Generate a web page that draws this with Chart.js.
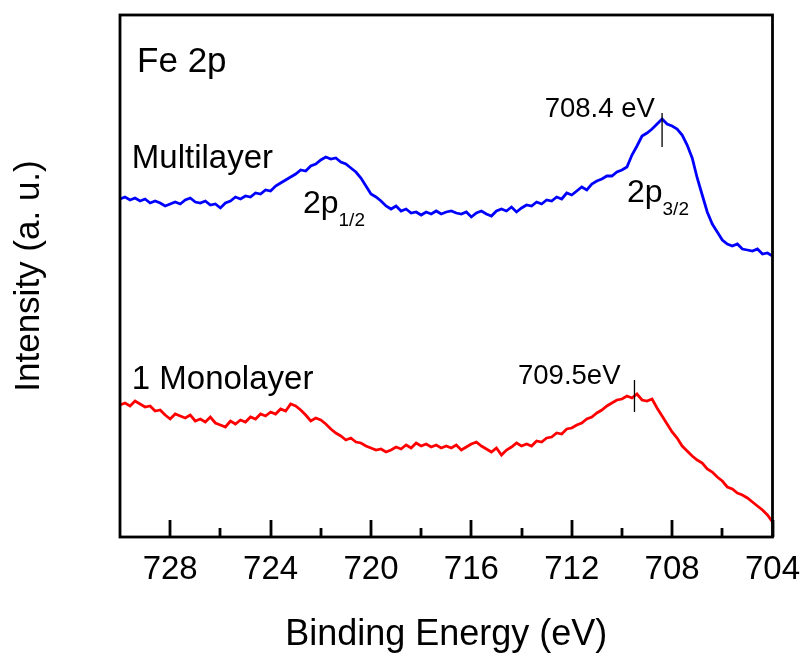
<!DOCTYPE html>
<html>
<head>
<meta charset="utf-8">
<script src="https://cdn.jsdelivr.net/npm/chart.js@4.4.1/dist/chart.umd.min.js"></script>
<style>
  html, body { margin: 0; padding: 0; background: #ffffff; }
  #wrap { width: 803px; height: 654px; }
</style>
</head>
<body>
<div id="wrap"><canvas id="c" width="803" height="654"></canvas></div>
<script>
// Binding energy grid (eV), 730 -> 704 in 0.2 eV steps
const energies = [];
for (let i = 0; i <= 130; i++) energies.push(+(730 - i * 0.2).toFixed(1));

// Intensity (a. u.), same order as energies
const multilayer = [
  338,340,337,339,336,338,334,336,334,331,
  333,335,333,337,339,335,334,336,332,333,
  329,334,336,340,338,341,340,344,343,347,
  346,351,354,357,360,363,367,366,371,373,
  377,380,378,379,375,373,369,365,359,351,
  343,340,336,331,328,331,326,328,324,325,
  322,325,323,326,323,325,326,324,323,325,
  320,324,326,323,321,326,328,326,330,325,
  329,332,331,335,333,337,336,340,338,344,
  342,346,350,347,353,356,358,361,361,365,
  367,370,382,391,401,404,408,413,418,413,
  411,408,402,392,379,359,342,325,313,305,
  297,293,291,293,288,287,286,288,283,284,
  281
];
const monolayer = [
  132,134,131,136,133,130,131,126,127,122,
  118,123,121,119,122,116,118,115,120,114,
  112,110,116,113,117,115,120,118,123,121,
  125,123,128,126,133,131,127,122,116,119,
  117,113,108,104,101,97,99,95,94,91,
  89,87,88,85,87,90,88,92,89,94,
  91,93,90,92,89,91,89,92,87,90,
  93,95,91,88,85,89,82,87,90,94,
  91,93,91,96,95,99,100,104,103,108,
  109,112,114,118,120,124,127,131,134,137,
  138,141,139,143,137,136,138,129,121,113,
  105,99,91,86,81,77,74,68,65,60,
  56,50,48,44,42,39,35,31,27,22,
  15
];

const majorTicks = [728, 724, 720, 716, 712, 708, 704];
const minorTicks = [726, 722, 718, 714, 710, 706];
const seriesNames = ['Multilayer', '1 Monolayer'];

// text annotations in data coordinates
const notes = [
  { text: 'Fe 2p', x: 729.32, y: 465, size: 35 },
  { text: 'Multilayer', x: 729.53, y: 369, size: 33 },
  { text: '2p', sub: '1/2', x: 722.71, y: 324, size: 32 },
  { text: '708.4 eV', x: 708.69, y: 420, size: 27.5, align: 'right' },
  { text: '2p', sub: '3/2', x: 709.8, y: 335, size: 32 },
  { text: '1 Monolayer', x: 729.53, y: 148, size: 33 },
  { text: '709.5eV', x: 714.14, y: 153, size: 27.5 }
];
const peakMarks = [
  { x: 708.4, y0: 390, y1: 424 },
  { x: 709.5, y0: 125, y1: 157 }
];

const FONT = '"Liberation Sans", Arial, Helvetica, sans-serif';

const framePlugin = {
  id: 'frame',
  afterDatasetsDraw(chart) {
    const { ctx, chartArea: a, scales } = chart;
    const xs = scales.x, ys = scales.y;
    ctx.save();
    ctx.strokeStyle = '#000';
    ctx.lineWidth = 2.8;
    ctx.lineCap = 'butt';
    // inward ticks on bottom axis
    ctx.beginPath();
    majorTicks.forEach(v => {
      const px = Math.round(xs.getPixelForValue(v));
      ctx.moveTo(px, a.bottom); ctx.lineTo(px, a.bottom - 17);
    });
    minorTicks.forEach(v => {
      const px = Math.round(xs.getPixelForValue(v));
      ctx.moveTo(px, a.bottom); ctx.lineTo(px, a.bottom - 9);
    });
    ctx.stroke();
    // frame
    ctx.strokeRect(a.left, a.top, a.right - a.left, a.bottom - a.top);

    // peak markers
    ctx.lineWidth = 1.3;
    ctx.beginPath();
    peakMarks.forEach(m => {
      const px = xs.getPixelForValue(m.x);
      ctx.moveTo(px, ys.getPixelForValue(m.y0));
      ctx.lineTo(px, ys.getPixelForValue(m.y1));
    });
    ctx.stroke();

    // notes
    ctx.fillStyle = '#000';
    ctx.textBaseline = 'alphabetic';
    notes.forEach(n => {
      const px = xs.getPixelForValue(n.x);
      const py = ys.getPixelForValue(n.y);
      ctx.font = n.size + 'px ' + FONT;
      ctx.textAlign = n.align || 'left';
      ctx.fillText(n.text, px, py);
      if (n.sub) {
        const w = ctx.measureText(n.text).width;
        ctx.font = Math.round(n.size * 0.6) + 'px ' + FONT;
        ctx.textAlign = 'left';
        ctx.fillText(n.sub, px + w, py + 13);
      }
    });
    ctx.restore();
  }
};

new Chart(document.getElementById('c'), {
  type: 'line',
  data: {
    datasets: [
      {
        label: seriesNames[0],
        data: energies.map((e, i) => ({ x: e, y: multilayer[i] })),
        borderColor: '#0000ff',
        borderWidth: 2.8,
        pointRadius: 0,
        tension: 0,
        fill: false
      },
      {
        label: seriesNames[1],
        data: energies.map((e, i) => ({ x: e, y: monolayer[i] })),
        borderColor: '#ff0000',
        borderWidth: 2.8,
        pointRadius: 0,
        tension: 0,
        fill: false
      }
    ]
  },
  options: {
    responsive: false,
    animation: false,
    devicePixelRatio: 1,
    layout: { padding: { left: 0, right: 30.5, top: 15, bottom: 0 } },
    plugins: { legend: { display: false }, tooltip: { enabled: false } },
    scales: {
      x: {
        type: 'linear',
        reverse: true,
        min: 704,
        max: 730,
        afterBuildTicks: s => { s.ticks = majorTicks.map(v => ({ value: v })); },
        afterFit: s => { s.height = 117; s.paddingLeft = 0; s.paddingRight = 0; },
        grid: { display: false, drawTicks: false },
        border: { display: false },
        ticks: {
          color: '#000',
          font: { family: FONT, size: 33 },
          padding: 13,
          maxRotation: 0,
          autoSkip: false
        },
        title: {
          display: true,
          text: 'Binding Energy (eV)',
          color: '#000',
          font: { family: FONT, size: 36 },
          padding: { top: 0, bottom: -3 }
        }
      },
      y: {
        type: 'linear',
        min: 0,
        max: 522,
        afterFit: s => { s.width = 120; s.paddingTop = 0; s.paddingBottom = 0; },
        grid: { display: false, drawTicks: false },
        border: { display: false },
        ticks: { display: false },
        title: {
          display: true,
          text: 'Intensity (a. u.)',
          color: '#000',
          font: { family: FONT, size: 35 },
          padding: { top: 8, bottom: 0 }
        }
      }
    }
  },
  plugins: [framePlugin]
});
</script>
</body>
</html>
